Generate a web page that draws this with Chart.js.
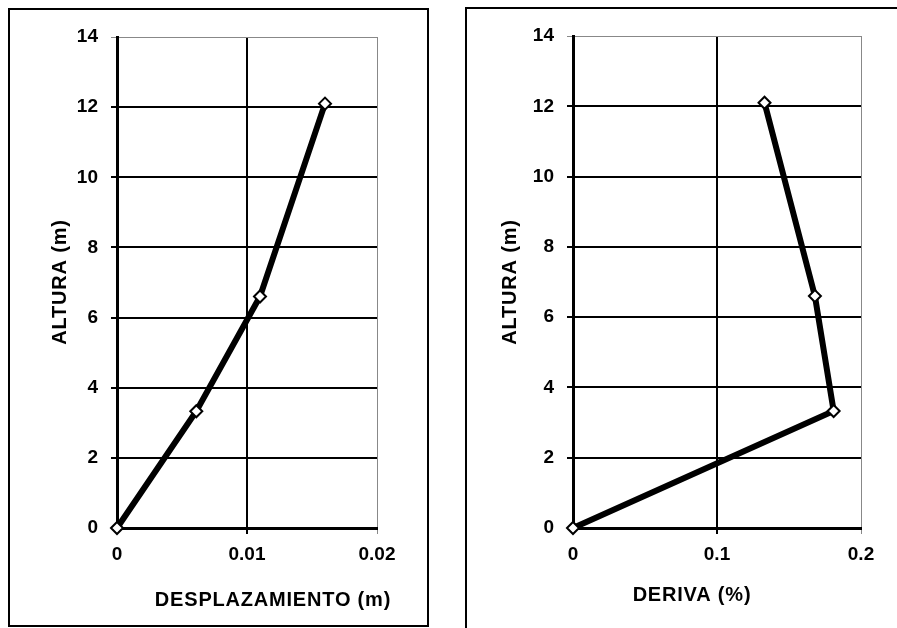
<!DOCTYPE html>
<html lang="es">
<head>
<meta charset="UTF-8">
<title>Desplazamiento y deriva</title>
<style>
    * { margin: 0; padding: 0; box-sizing: border-box; }
    body { width: 897px; height: 628px; background: #fff; overflow: hidden; position: relative; }
    .box { position: absolute; border: 2px solid #000; }
    #boxLeft { left: 8px; top: 8px; width: 421px; height: 619px; }
    #boxRight { left: 465px; top: 7px; width: 440px; height: 623px; }
    .box canvas { display: block; }
</style>
</head>
<body>
<div class="box" id="boxLeft"><canvas id="despChart" width="417" height="615"></canvas></div>
<div class="box" id="boxRight"><canvas id="derivaChart" width="436" height="619"></canvas></div>

<script src="https://cdn.jsdelivr.net/npm/chart.js"></script>
<script>
// datos
const altura = [0, 3.33, 6.6, 12.1];
const desplazamiento = [0, 0.0061, 0.011, 0.016];
const deriva = [0, 0.181, 0.168, 0.133];
const alturaTicks = [0, 2, 4, 6, 8, 10, 12, 14];
const despTicks = [0, 0.01, 0.02];
const derivaTicks = [0, 0.1, 0.2];

const font = 'Arial, "Liberation Sans", sans-serif';

// titulos de ejes dibujados a mano para poder moverlos
const axisTitles = {
    id: 'axisTitles',
    afterDraw(chart, args, opts) {
        const ctx = chart.ctx;
        ctx.save();
        ctx.fillStyle = '#000';
        ctx.font = 'bold 20px ' + font;
        ctx.letterSpacing = '0.8px';
        ctx.textAlign = 'center';
        ctx.textBaseline = 'middle';
        ctx.fillText(opts.x.text, opts.x.pos[0], opts.x.pos[1]);
        ctx.translate(opts.y.pos[0], opts.y.pos[1]);
        ctx.rotate(-Math.PI / 2);
        ctx.fillText(opts.y.text, 0, 0);
        ctx.restore();
    }
};

function makeChart(id, xs, xTicks, xMax, cfg) {
    const pts = xs.map((v, i) => ({ x: v, y: altura[i] }));
    const gridColor = (max) => (c) => (c.tick && c.tick.value === max ? '#888' : '#000');
    const gridWidth = (max) => (c) => (c.tick && c.tick.value === max ? 1 : 2);
    return new Chart(document.getElementById(id), {
        type: 'scatter',
        data: {
            datasets: [{
                data: pts,
                showLine: true,
                borderColor: '#000',
                borderWidth: 6,
                pointStyle: 'rectRot',
                pointRadius: 6,
                pointBackgroundColor: '#fff',
                pointBorderColor: '#000',
                pointBorderWidth: 2,
                clip: false
            }]
        },
        options: {
            responsive: false,
            animation: false,
            layout: { padding: cfg.padding },
            plugins: {
                legend: { display: false },
                tooltip: { enabled: false },
                axisTitles: cfg.titles
            },
            scales: {
                x: {
                    type: 'linear',
                    min: 0,
                    max: xMax,
                    afterBuildTicks: s => { s.ticks = xTicks.map(v => ({ value: v })); },
                    afterFit: s => { s.height = cfg.xHeight; },
                    ticks: {
                        color: '#000',
                        padding: 9,
                        font: { family: font, size: 19, weight: 'bold' },
                        callback: v => String(v)
                    },
                    grid: { color: gridColor(xMax), lineWidth: gridWidth(xMax), tickLength: 6 },
                    border: { color: '#000', width: 3 }
                },
                y: {
                    type: 'linear',
                    min: 0,
                    max: 14,
                    afterBuildTicks: s => { s.ticks = alturaTicks.map(v => ({ value: v })); },
                    afterFit: s => { s.width = cfg.yWidth; },
                    ticks: {
                        color: '#000',
                        padding: 13,
                        font: { family: font, size: 19, weight: 'bold' },
                        callback: v => String(v)
                    },
                    grid: { color: gridColor(14), lineWidth: gridWidth(14), tickLength: 6 },
                    border: { color: '#000', width: 3 }
                }
            }
        },
        plugins: [axisTitles]
    });
}

makeChart('despChart', desplazamiento, despTicks, 0.02, {
    padding: { top: 27, right: 50, left: 0, bottom: 0 },
    yWidth: 107,
    xHeight: 97,
    titles: {
        x: { text: 'DESPLAZAMIENTO (m)', pos: [263, 590] },
        y: { text: 'ALTURA (m)', pos: [50, 272] }
    }
});

makeChart('derivaChart', deriva, derivaTicks, 0.2, {
    padding: { top: 27, right: 42, left: 0, bottom: 0 },
    yWidth: 106,
    xHeight: 100,
    titles: {
        x: { text: 'DERIVA (%)', pos: [225, 586] },
        y: { text: 'ALTURA (m)', pos: [43, 273] }
    }
});
</script>
</body>
</html>
